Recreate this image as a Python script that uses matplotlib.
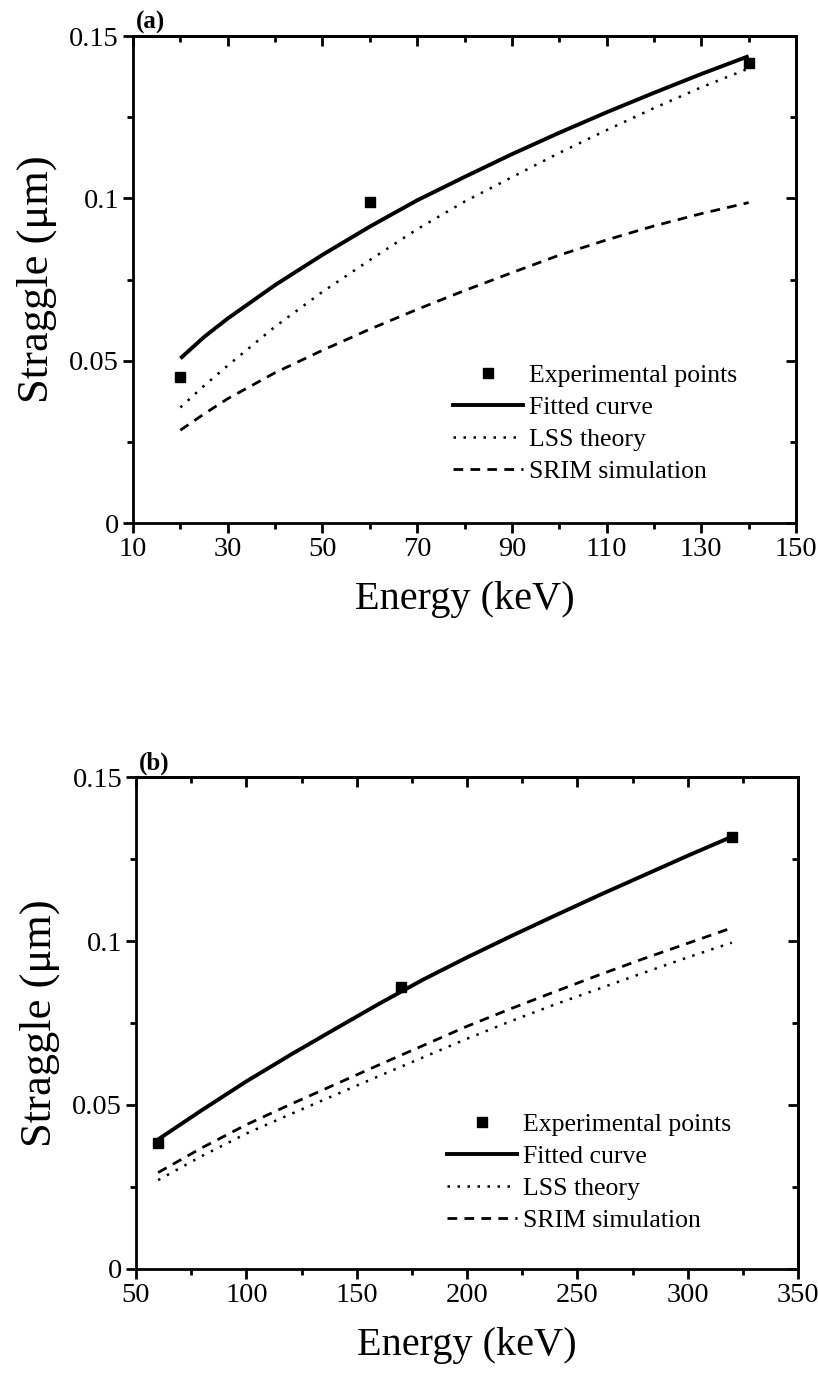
import numpy as np
import matplotlib
matplotlib.use('Agg')
import matplotlib.pyplot as plt
from matplotlib.ticker import MultipleLocator
from matplotlib.lines import Line2D

plt.rcParams['font.family'] = 'Liberation Serif'

# (a) straggle vs energy, 10-150 keV
energy_a = [20, 25, 30, 40, 50, 60, 70, 80, 90, 100, 110, 120, 130, 140]
fit_a = [0.0507, 0.0573, 0.0630, 0.0733, 0.0826, 0.0913, 0.0994, 0.1066,
         0.1136, 0.1202, 0.1265, 0.1325, 0.1383, 0.1438]
lss_a = [0.0356, 0.0423, 0.0485, 0.0605, 0.0712, 0.0810, 0.0905, 0.0990,
         0.1065, 0.1140, 0.1210, 0.1278, 0.1342, 0.1400]
srim_a = [0.0286, 0.0336, 0.0383, 0.0463, 0.0532, 0.0597, 0.0658, 0.0716,
          0.0771, 0.0825, 0.0872, 0.0915, 0.0953, 0.0987]
exp_energy_a = [20, 60, 140]
exp_straggle_a = [0.0449, 0.0988, 0.1416]

# (b) straggle vs energy, 50-350 keV
energy_b = [60, 80, 100, 120, 140, 160, 180, 200, 220, 240, 260, 280, 300, 320]
fit_b = [0.0395, 0.0485, 0.0572, 0.0653, 0.0731, 0.0808, 0.0882, 0.0950,
         0.1015, 0.1078, 0.1140, 0.1200, 0.1260, 0.1318]
lss_b = [0.0271, 0.0345, 0.0413, 0.0472, 0.0530, 0.0588, 0.0645, 0.0702,
         0.0756, 0.0807, 0.0855, 0.0903, 0.0950, 0.0995]
srim_b = [0.0294, 0.0370, 0.0440, 0.0502, 0.0562, 0.0622, 0.0681, 0.0740,
          0.0794, 0.0846, 0.0897, 0.0946, 0.0993, 0.1040]
exp_energy_b = [60, 170, 320]
exp_straggle_b = [0.0383, 0.0859, 0.1318]

y_ticks = [0, 0.05, 0.1, 0.15]
y_tick_labels = ['0', '0.05', '0.1', '0.15']
x_ticks_a = [10, 30, 50, 70, 90, 110, 130, 150]
x_ticks_b = [50, 100, 150, 200, 250, 300, 350]

legend_labels = ['Experimental points', 'Fitted curve', 'LSS theory', 'SRIM simulation']

SPINE_W = 2.0
DASH = (0, (3.5, 2.6))
DOT = (0, (1.0, 3.0))


def draw_panel(ax, energy, fit, lss, srim, exp_e, exp_s, xlim, xticks, xminor,
               tag, legend_anchor):
    ax.plot(energy, fit, color='black', lw=2.8, solid_capstyle='butt')
    ax.plot(energy, lss, color='black', lw=1.8, linestyle=DOT)
    ax.plot(energy, srim, color='black', lw=2.0, linestyle=DASH)
    ax.plot(exp_e, exp_s, 's', color='black', ms=7.5, zorder=5)

    ax.set_xlim(*xlim)
    ax.set_ylim(0, 0.15)
    ax.set_xticks(xticks)
    ax.xaxis.set_minor_locator(MultipleLocator(xminor))
    ax.set_yticks(y_ticks)
    ax.set_yticklabels(y_tick_labels)
    ax.yaxis.set_minor_locator(MultipleLocator(0.025))

    for sp in ax.spines.values():
        sp.set_linewidth(SPINE_W)

    ax.tick_params(which='both', direction='out', top=False, right=False,
                   width=SPINE_W, labelsize=20.5, pad=3)
    ax.tick_params(which='major', length=7)
    ax.tick_params(which='minor', length=4)

    # mirrored ticks on top and right point inward
    top = ax.secondary_xaxis('top')
    top.set_xticks(xticks)
    top.xaxis.set_minor_locator(MultipleLocator(xminor))
    top.tick_params(which='both', direction='in', labeltop=False, width=SPINE_W)
    top.tick_params(which='major', length=7)
    top.tick_params(which='minor', length=4)
    top.spines['top'].set_linewidth(SPINE_W)

    right = ax.secondary_yaxis('right')
    right.set_yticks(y_ticks)
    right.yaxis.set_minor_locator(MultipleLocator(0.025))
    right.tick_params(which='both', direction='in', labelright=False, width=SPINE_W)
    right.tick_params(which='major', length=7)
    right.tick_params(which='minor', length=4)
    right.spines['right'].set_linewidth(SPINE_W)

    ax.set_xlabel('Energy (keV)', fontsize=29, labelpad=14)
    ax.set_ylabel('Straggle (μm)', fontsize=32, labelpad=9)

    ax.text(0.005, 1.004, tag, transform=ax.transAxes, fontsize=18,
            fontweight='bold', ha='left', va='bottom')

    handles = [
        Line2D([], [], marker='s', color='black', ms=7.5, linestyle='none'),
        Line2D([], [], color='black', lw=2.8),
        Line2D([], [], color='black', lw=1.8, linestyle=DOT),
        Line2D([], [], color='black', lw=2.0, linestyle=DASH),
    ]
    ax.legend(handles, legend_labels, loc='upper left', bbox_to_anchor=legend_anchor,
              frameon=False, fontsize=18.5, handlelength=2.7, handletextpad=0.25,
              labelspacing=0.35, borderpad=0, borderaxespad=0)


fig = plt.figure(figsize=(8.18, 13.75), dpi=100)
ax_a = fig.add_axes([0.1626, 0.6196, 0.8105, 0.3542])
ax_b = fig.add_axes([0.1663, 0.0771, 0.8093, 0.3578])

draw_panel(ax_a, energy_a, fit_a, lss_a, srim_a, exp_energy_a, exp_straggle_a,
           (10, 150), x_ticks_a, 10, '(a)', (0.483, 0.327))
draw_panel(ax_b, energy_b, fit_b, lss_b, srim_b, exp_energy_b, exp_straggle_b,
           (50, 350), x_ticks_b, 25, '(b)', (0.470, 0.317))

fig.savefig('out.png', dpi=100)
